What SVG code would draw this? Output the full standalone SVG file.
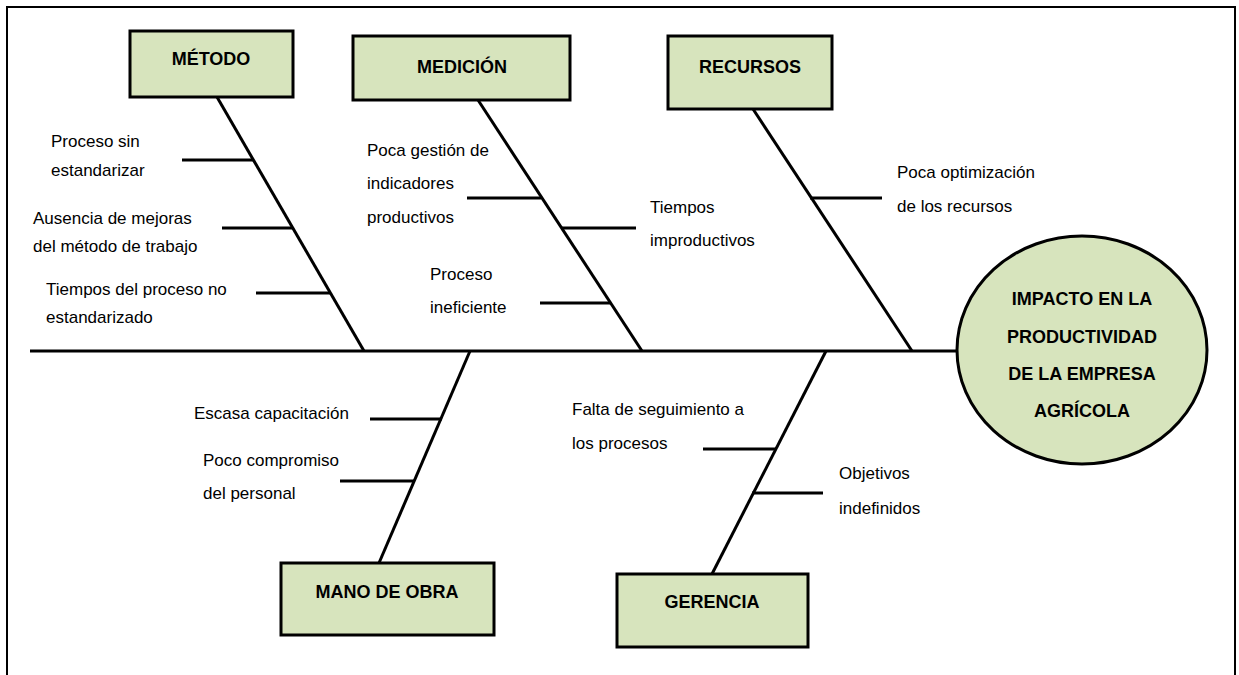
<svg xmlns="http://www.w3.org/2000/svg" width="1239" height="675" viewBox="0 0 1239 675">
<style>
.box{fill:#d7e4bd;stroke:#000;stroke-width:3}
.ln{stroke:#000;stroke-width:3;fill:none;stroke-linecap:butt}
.ttl{font-family:"Liberation Sans",Arial,sans-serif;font-weight:bold;font-size:18px;fill:#000;text-anchor:middle}
.lbl{font-family:"Liberation Sans",Arial,sans-serif;font-size:17px;fill:#000}
</style>
<rect x="0" y="0" width="1239" height="675" fill="#fff"/>
<rect x="7" y="7" width="1228" height="680" fill="none" stroke="#000" stroke-width="2"/>
<g id="connectors">
<line class="ln" x1="30" y1="351" x2="958" y2="351"/>
<line class="ln" x1="217" y1="97" x2="364" y2="351"/>
<line class="ln" x1="182" y1="160" x2="253" y2="160"/>
<line class="ln" x1="222" y1="228" x2="293" y2="228"/>
<line class="ln" x1="256" y1="293" x2="330" y2="293"/>
<line class="ln" x1="478" y1="100" x2="642" y2="351"/>
<line class="ln" x1="467" y1="198" x2="541" y2="198"/>
<line class="ln" x1="561" y1="228" x2="636" y2="228"/>
<line class="ln" x1="540" y1="303" x2="611" y2="303"/>
<line class="ln" x1="753" y1="109" x2="912" y2="351"/>
<line class="ln" x1="810" y1="198" x2="882" y2="198"/>
<line class="ln" x1="470" y1="351" x2="379" y2="563"/>
<line class="ln" x1="370" y1="419" x2="442" y2="419"/>
<line class="ln" x1="340" y1="481" x2="414" y2="481"/>
<line class="ln" x1="826" y1="351" x2="712" y2="574"/>
<line class="ln" x1="703" y1="449" x2="776" y2="449"/>
<line class="ln" x1="752" y1="493" x2="823" y2="493"/>
</g>
<g id="metodo">
<rect class="box" x="130" y="31" width="163" height="66"/>
<text class="ttl" x="211" y="65">MÉTODO</text>
</g>
<g id="medicion">
<rect class="box" x="353" y="36" width="217" height="64"/>
<text class="ttl" x="462" y="73">MEDICIÓN</text>
</g>
<g id="recursos">
<rect class="box" x="668" y="36" width="164" height="73"/>
<text class="ttl" x="750" y="73">RECURSOS</text>
</g>
<g id="mano-de-obra">
<rect class="box" x="281" y="563" width="213" height="72"/>
<text class="ttl" x="387" y="598">MANO DE OBRA</text>
</g>
<g id="gerencia">
<rect class="box" x="617" y="574" width="191" height="73"/>
<text class="ttl" x="712" y="608">GERENCIA</text>
</g>
<g id="efecto">
<ellipse cx="1082" cy="350" rx="125" ry="114" fill="#d7e4bd" stroke="#000" stroke-width="3"/>
<text class="ttl" x="1082" y="305">IMPACTO EN LA</text>
<text class="ttl" x="1082" y="343">PRODUCTIVIDAD</text>
<text class="ttl" x="1082" y="380">DE LA EMPRESA</text>
<text class="ttl" x="1082" y="417">AGRÍCOLA</text>
</g>
<g id="labels">
<text class="lbl" x="51" y="147">Proceso sin</text>
<text class="lbl" x="51" y="176">estandarizar</text>
<text class="lbl" x="33" y="224">Ausencia de mejoras</text>
<text class="lbl" x="33" y="252">del método de trabajo</text>
<text class="lbl" x="46" y="295">Tiempos del proceso no</text>
<text class="lbl" x="46" y="323">estandarizado</text>
<text class="lbl" x="367" y="156">Poca gestión de</text>
<text class="lbl" x="367" y="189">indicadores</text>
<text class="lbl" x="367" y="223">productivos</text>
<text class="lbl" x="650" y="213">Tiempos</text>
<text class="lbl" x="650" y="246">improductivos</text>
<text class="lbl" x="430" y="280">Proceso</text>
<text class="lbl" x="430" y="313">ineficiente</text>
<text class="lbl" x="897" y="178">Poca optimización</text>
<text class="lbl" x="897" y="212">de los recursos</text>
<text class="lbl" x="194" y="419">Escasa capacitación</text>
<text class="lbl" x="203" y="466">Poco compromiso</text>
<text class="lbl" x="203" y="499">del personal</text>
<text class="lbl" x="572" y="415">Falta de seguimiento a</text>
<text class="lbl" x="572" y="449">los procesos</text>
<text class="lbl" x="839" y="479">Objetivos</text>
<text class="lbl" x="839" y="514">indefinidos</text>
</g>
</svg>
